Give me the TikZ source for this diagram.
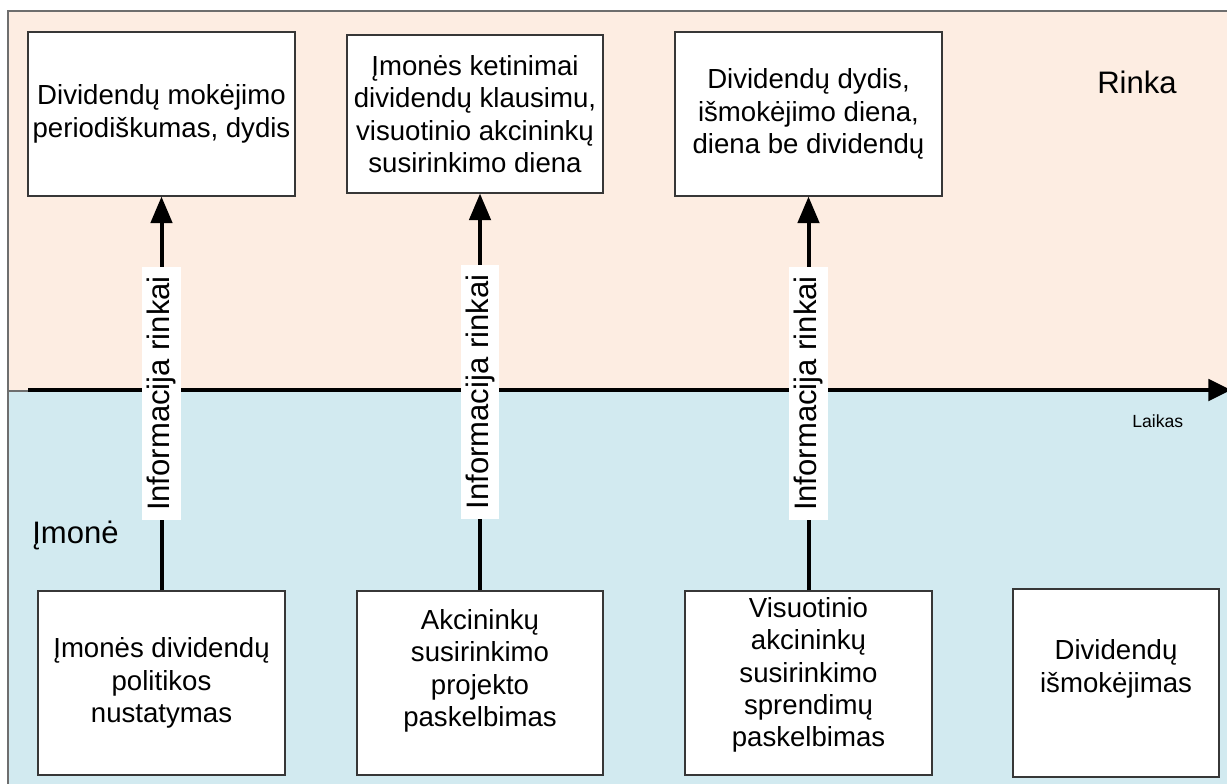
\documentclass[tikz,border=0pt]{standalone}
\usepackage{fontspec}
\setmainfont{Liberation Sans}
\usetikzlibrary{arrows.meta}
\definecolor{marketbg}{RGB}{253,237,226}
\definecolor{firmbg}{RGB}{210,234,240}
\definecolor{framegray}{RGB}{110,110,110}
\definecolor{boxedge}{RGB}{55,55,55}
% empty trailing line that lifts a box's text a little
\newcommand{\liftpad}[1]{\\[#1]\mbox{}}
\begin{document}
\begin{tikzpicture}[x=0.75pt,y=-0.75pt,
  box/.style={draw=boxedge, line width=0.8pt, fill=white, align=center,
    inner sep=2pt, font=\fontsize{20.7}{24.3}\selectfont},
  flow/.style={line width=3pt, -{Triangle[length=20pt,width=16pt]}},
  infolabel/.style={fill=white, rotate=90, inner xsep=7pt, inner ysep=3.5pt,
    font=\fontsize{23.3}{28}\selectfont},
  zone/.style={font=\fontsize{23.3}{28}\selectfont, anchor=base west, inner sep=0pt}
]
\useasboundingbox (0,0) rectangle (1227,783);

% market (top) and company (bottom) zones
\fill[marketbg] (8,11) rectangle (1240,391);
\fill[firmbg] (8,391) rectangle (1240,800);
\draw[framegray, line width=0.8pt] (8,800) -- (8,11) -- (1240,11);
\draw[framegray, line width=0.8pt] (8,391) -- (1240,391);

% time axis
\coordinate (ax0) at (28,390);
\coordinate (ax1) at (1231,390);
\draw[line width=3pt, -{Triangle[length=17pt,width=16pt]}] (ax0) -- (ax1);
\node[font=\fontsize{13.2}{16}\selectfont, anchor=base west, inner sep=0pt] (laikas) at (1132,427) {Laikas};

% zone titles
\node[zone] (rinka) at (1097,93) {Rinka};
\node[zone] (imone) at (32,543) {Įmonė};

% market-side information
\node[box, minimum width=200.25pt, minimum height=123pt] (t1) at (161.5,114)
  {Dividendų mokėjimo\\periodiškumas, dydis};
\node[box, minimum width=192pt, minimum height=118.5pt] (t2) at (475,114)
  {Įmonės ketinimai\\dividendų klausimu,\\visuotinio akcininkų\\susirinkimo diena};
\node[box, minimum width=200.25pt, minimum height=123pt] (t3) at (808.5,114)
  {Dividendų dydis,\\išmokėjimo diena,\\diena be dividendų};

% company-side steps
\node[box, minimum width=185.25pt, minimum height=138pt] (b1) at (161.5,683)
  {Įmonės dividendų\\politikos\\nustatymas};
\node[box, minimum width=184.5pt, minimum height=138pt] (b2) at (480,683)
  {Akcininkų\\susirinkimo\\projekto\\paskelbimas\liftpad{-2pt}};
\node[box, minimum width=185.25pt, minimum height=138pt] (b3) at (808.5,683)
  {Visuotinio\\akcininkų\\susirinkimo\\sprendimų\\paskelbimas\liftpad{-8pt}};
\node[box, minimum width=154.5pt, minimum height=141pt] (b4) at (1116,683)
  {Dividendų\\išmokėjimas\liftpad{1pt}};

% information flows from the company to the market
\draw[flow] (b1.north) -- (b1.north |- t1.south)
  node[midway, infolabel] (i1) {Informacija rinkai};
\draw[flow] (b2.north) -- (b2.north |- t2.south)
  node[midway, infolabel] (i2) {Informacija rinkai};
\draw[flow] (b3.north) -- (b3.north |- t3.south)
  node[midway, infolabel] (i3) {Informacija rinkai};
\end{tikzpicture}
\end{document}
